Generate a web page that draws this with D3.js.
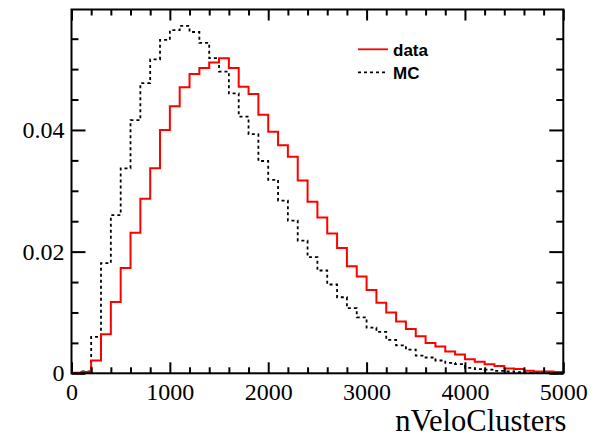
<!DOCTYPE html>
<html>
<head>
<meta charset="utf-8">
<script src="https://cdn.jsdelivr.net/npm/d3@7"></script>
<style>
  body { margin: 0; background: #fff; }
  .tick text { font-family: "Liberation Serif", "Times New Roman", serif; font-size: 24px; fill: #000; }
</style>
</head>
<body>
<div id="chart"></div>
<script>
// bin edges: 50 bins of 100 from 0 to 5000
var binLow = d3.range(0, 5000, 100);

var dataVals = [0.0001, 0.0002, 0.0021, 0.0064, 0.0117, 0.0173, 0.0231, 0.0287, 0.0337, 0.0400,
  0.0439, 0.0470, 0.0492, 0.0502, 0.0511, 0.0518, 0.0502, 0.0471, 0.0459, 0.0425,
  0.0397, 0.0375, 0.0356, 0.0317, 0.0282, 0.0256, 0.0230, 0.0206, 0.0176, 0.0159,
  0.0137, 0.0116, 0.0100, 0.0085, 0.0073, 0.0061, 0.0050, 0.0044, 0.0036, 0.0031,
  0.0023, 0.0019, 0.0015, 0.0012, 0.0008, 0.0007, 0.0004, 0.0003, 0.0003, 0.0002];

var mcVals = [0.0000, 0.0003, 0.0060, 0.0181, 0.0260, 0.0337, 0.0416, 0.0477, 0.0516, 0.0548,
  0.0564, 0.0571, 0.0561, 0.0543, 0.0518, 0.0496, 0.0460, 0.0422, 0.0393, 0.0349,
  0.0318, 0.0284, 0.0251, 0.0218, 0.0191, 0.0169, 0.0146, 0.0125, 0.0107, 0.0092,
  0.0075, 0.0068, 0.0055, 0.0046, 0.0039, 0.0029, 0.0026, 0.0021, 0.0017, 0.0015,
  0.0009, 0.0007, 0.0006, 0.0004, 0.0003, 0.0002, 0.0001, 0.0001, 0.0001, 0.0000];

var xMajor = [0, 1000, 2000, 3000, 4000, 5000];
var yMajor = [0, 0.02, 0.04];
var yLabels = ["0", "0.02", "0.04"];

var width = 591, height = 441;
// frame edges in px
var fL = 71.5, fR = 563.3, fT = 9.5, fB = 373.3;

var svg = d3.select('#chart').append('svg')
  .attr('width', width)
  .attr('height', height);

var x = d3.scaleLinear().domain([0, 5000]).range([fL, fR]);
var y = d3.scaleLinear().domain([0, 0.0598]).range([fB, fT]);

var xMinor = d3.range(0, 5001, 200).filter(function (d) { return d % 1000 != 0; });
var yMinor = d3.range(0, 0.0598, 0.005).filter(function (d, i) { return i % 4 != 0; });

svg.append('clipPath').attr('id', 'clip')
  .append('rect')
  .attr('x', fL).attr('y', fT)
  .attr('width', fR - fL).attr('height', fB - fT);

// histogram outlines
function stepPoints(vals) {
  var pts = binLow.map(function (b, i) { return [b, vals[i]]; });
  pts.push([5000, vals[vals.length - 1]]);
  return pts;
}
var line = d3.line()
  .x(function (d) { return x(d[0]); })
  .y(function (d) { return y(d[1]); })
  .curve(d3.curveStepAfter);

var g = svg.append('g').attr('clip-path', 'url(#clip)');
g.append('path')
  .attr('d', line(stepPoints(mcVals)))
  .attr('fill', 'none')
  .attr('stroke', '#000')
  .attr('stroke-width', 1.8)
  .attr('stroke-dasharray', '3,3');
g.append('path')
  .attr('d', line(stepPoints(dataVals)))
  .attr('fill', 'none')
  .attr('stroke', '#ff0000')
  .attr('stroke-width', 2);

// axes, ticks inside the frame
function styleAxis(sel) {
  sel.select('.domain').remove();
  sel.selectAll('.tick line').attr('stroke', '#000').attr('stroke-width', 2);
}

svg.append('g').attr('transform', 'translate(0,' + fB + ')')
  .call(d3.axisBottom(x).tickValues(xMajor).tickSize(-11).tickPadding(10).tickFormat(d3.format('d')))
  .call(styleAxis);
svg.append('g').attr('transform', 'translate(0,' + fB + ')')
  .call(d3.axisBottom(x).tickValues(xMinor).tickSize(-6).tickFormat(''))
  .call(styleAxis);
svg.append('g').attr('transform', 'translate(0,' + fT + ')')
  .call(d3.axisTop(x).tickValues(xMajor).tickSize(-11).tickFormat(''))
  .call(styleAxis);
svg.append('g').attr('transform', 'translate(0,' + fT + ')')
  .call(d3.axisTop(x).tickValues(xMinor).tickSize(-6).tickFormat(''))
  .call(styleAxis);

svg.append('g').attr('transform', 'translate(' + fL + ',0)')
  .call(d3.axisLeft(y).tickValues(yMajor).tickSize(-14).tickPadding(7)
    .tickFormat(function (d, i) { return yLabels[i]; }))
  .call(styleAxis);
svg.append('g').attr('transform', 'translate(' + fL + ',0)')
  .call(d3.axisLeft(y).tickValues(yMinor).tickSize(-7).tickFormat(''))
  .call(styleAxis);
svg.append('g').attr('transform', 'translate(' + fR + ',0)')
  .call(d3.axisRight(y).tickValues(yMajor).tickSize(-14).tickFormat(''))
  .call(styleAxis);
svg.append('g').attr('transform', 'translate(' + fR + ',0)')
  .call(d3.axisRight(y).tickValues(yMinor).tickSize(-7).tickFormat(''))
  .call(styleAxis);

// frame
svg.append('rect')
  .attr('x', fL).attr('y', fT)
  .attr('width', fR - fL).attr('height', fB - fT)
  .attr('fill', 'none')
  .attr('stroke', '#000')
  .attr('stroke-width', 2);

// x title
svg.append('text')
  .attr('x', fR + 3)
  .attr('y', 431)
  .attr('text-anchor', 'end')
  .style('font-family', '"Liberation Serif", "Times New Roman", serif')
  .style('font-size', '30.5px')
  .text('nVeloClusters');

// legend
var legend = [
  { label: 'data', color: '#ff0000', dash: null, y: 49.3 },
  { label: 'MC', color: '#000', dash: '3,3', y: 72.3 }
];
var lg = svg.append('g');
legend.forEach(function (d) {
  lg.append('line')
    .attr('x1', 358).attr('x2', 388)
    .attr('y1', d.y).attr('y2', d.y)
    .attr('stroke', d.color)
    .attr('stroke-width', 1.8)
    .attr('stroke-dasharray', d.dash);
  lg.append('text')
    .attr('x', 393)
    .attr('y', d.y + 6.5)
    .style('font-family', '"Liberation Sans", Arial, sans-serif')
    .style('font-weight', 'bold')
    .style('font-size', '17px')
    .text(d.label);
});
</script>
</body>
</html>
